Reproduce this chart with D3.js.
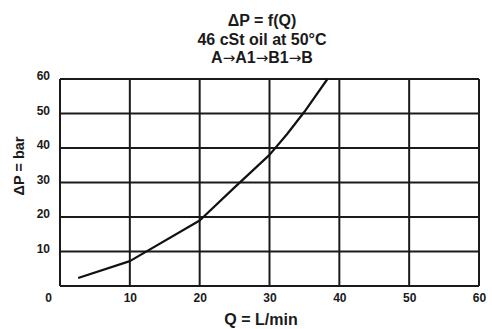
<!DOCTYPE html>
<html><head><meta charset="utf-8">
<script src="https://cdn.jsdelivr.net/npm/d3@7"></script>
<style>body{margin:0;background:#fff}svg{display:block}text{font-family:"Liberation Sans",Arial,sans-serif;fill:#1a1a1a}</style>
</head><body>
<script>
const titleLines = ["ΔP = f(Q)", "46 cSt oil at 50°C", "A→A1→B1→B"];
const xTicks = [0, 10, 20, 30, 40, 50, 60];
const yTicks = [0, 10, 20, 30, 40, 50, 60];
const flowQ = [2.6, 10, 20, 25, 30, 32.5, 35, 38.3];
const deltaP = [2.3, 7.2, 19, 28.6, 38, 44, 50.5, 60];
const xLabel = "Q = L/min";
const yLabel = "ΔP = bar";

const W = 492, H = 329;
const svg = d3.select("body").append("svg").attr("width", W).attr("height", H);
const x = d3.scaleLinear().domain([0, 60]).range([60, 479]);
const y = d3.scaleLinear().domain([0, 60]).range([286, 79]);

const tl = svg.selectAll("text.title").data(titleLines).join("text")
  .attr("x", 262).attr("y", (d, i) => 26 + i * 18.7)
  .attr("text-anchor", "middle").attr("font-size", 16).attr("font-weight", "bold");
tl.each(function(d) {
  const t = d3.select(this);
  d.split(/(→)/).filter(s => s.length).forEach(s => {
    const sp = t.append("tspan").text(s);
    if (s === "→") sp.attr("font-family", '"DejaVu Sans",sans-serif').attr("font-weight", "normal").attr("font-size", 15);
  });
});

const g = svg.append("g");
g.selectAll("line.v").data(xTicks).join("line")
  .attr("x1", d => x(d)).attr("x2", d => x(d)).attr("y1", y(0)).attr("y2", y(60))
  .attr("stroke", "#1a1a1a").attr("stroke-width", 2);
g.selectAll("line.h").data(yTicks).join("line")
  .attr("y1", d => y(d)).attr("y2", d => y(d)).attr("x1", x(0)).attr("x2", x(60))
  .attr("stroke", "#1a1a1a").attr("stroke-width", 2);

const xa = svg.append("g").attr("transform", `translate(0,${y(0)})`)
  .call(d3.axisBottom(x).tickValues(xTicks).tickSize(0).tickPadding(7));
xa.select(".domain").remove();
xa.selectAll("text").attr("font-size", 12).attr("font-weight", "bold")
  .attr("font-family", '"Liberation Sans",Arial,sans-serif').attr("fill", "#1a1a1a")
  .attr("dx", d => d === 0 ? "-12" : "0");
const ya = svg.append("g").attr("transform", `translate(${x(0)},0)`)
  .call(d3.axisLeft(y).tickValues(yTicks.filter(d => d > 0)).tickSize(0).tickPadding(10));
ya.select(".domain").remove();
ya.selectAll("text").attr("font-size", 12).attr("font-weight", "bold")
  .attr("font-family", '"Liberation Sans",Arial,sans-serif').attr("fill", "#1a1a1a")
  .attr("dy", "0.05em");

svg.append("text").attr("x", 261).attr("y", 325).attr("text-anchor", "middle")
  .attr("font-size", 16).attr("font-weight", "bold").text(xLabel);
svg.append("text").attr("transform", "translate(24,166) rotate(-90)").attr("text-anchor", "middle")
  .attr("font-size", 14.5).attr("font-weight", "bold").text(yLabel);

const pts = flowQ.map((q, i) => [q, deltaP[i]]);
svg.append("path").datum(pts)
  .attr("d", d3.line().x(d => x(d[0])).y(d => y(d[1])))
  .attr("fill", "none").attr("stroke", "#111").attr("stroke-width", 2.2).attr("stroke-linejoin", "round");
</script>
</body></html>
